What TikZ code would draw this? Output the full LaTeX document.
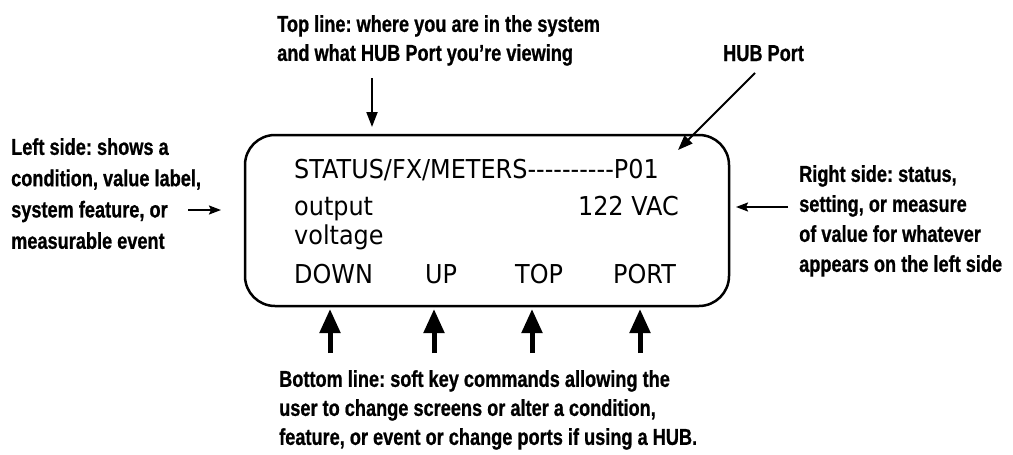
\documentclass[tikz,border=0pt]{standalone}
\usepackage{fontspec}
\setmainfont{Liberation Sans}
\newfontfamily\notefont{Liberation Sans}[FakeStretch=0.79,FakeBold=0.8]
\newfontfamily\lcdfont{DejaVu Sans}[FakeStretch=0.92]
\usetikzlibrary{arrows.meta}
\frenchspacing

\begin{document}
\begin{tikzpicture}[x=1pt, y=-1pt,
		note/.style={font=\notefont\bfseries\fontsize{23}{#1}\selectfont, align=left, anchor=north west, inner sep=0pt},
		lcd/.style={font=\lcdfont\fontsize{26}{29}\selectfont, anchor=base west, inner sep=0pt},
		thin pointer/.style={line width=2pt, -{Triangle[length=15pt,width=11pt]}},
		side pointer/.style={line width=1.8pt, -{Stealth[length=12pt,width=9pt,inset=2pt]}},
		key pointer/.style={line width=5pt, -{Triangle[length=24pt,width=20pt]}}]
	\useasboundingbox (0,0) rectangle (1013,455);
	\draw [line width=2.5pt, rounded corners=30pt] (245,135) rectangle (729,306);
	\node [note=29] (topNote) at (277,15) {Top line: where you are in the system\\and what HUB Port you’re viewing};
	\node [note=29] (hubNote) at (723,45) {HUB Port};
	\node [note=31.3] (leftNote) at (11,138) {Left side: shows a\\condition, value label,\\system feature, or\\measurable event};
	\node [note=30] (rightNote) at (799,165) {Right side: status,\\setting, or measure\\of value for whatever\\appears on the left side};
	\node [note=29] (bottomNote) at (279,370) {Bottom line: soft key commands allowing the\\user to change screens or alter a condition,\\feature, or event or change ports if using a HUB.};
	\node [lcd] (path) at (294,178) {STATUS/FX/METERS----------P01};
	\node [lcd] (label1) at (294,215) {output};
	\node [lcd] (label2) at (294,244) {voltage};
	\node [lcd, anchor=base east] (value) at (679,215) {122 VAC};
	\node [lcd] (keyDown) at (294,283) {DOWN};
	\node [lcd] (keyUp) at (425,283) {UP};
	\node [lcd] (keyTop) at (515,283) {TOP};
	\node [lcd] (keyPort) at (613,283) {PORT};
	\coordinate (topTail) at (372,78);
	\coordinate (topTip) at (372,127);
	\coordinate (hubTail) at (755,73);
	\coordinate (hubTip) at (678,150);
	\coordinate (leftTail) at (188,210);
	\coordinate (leftTip) at (221,210);
	\coordinate (rightTail) at (788,207);
	\coordinate (rightTip) at (736,207);
	\draw [thin pointer] (topTail) -- (topTip);
	\draw [thin pointer] (hubTail) -- (hubTip);
	\draw [side pointer] (leftTail) -- (leftTip);
	\draw [side pointer] (rightTail) -- (rightTip);
	\foreach \x/\name in {330/Down, 434/Up, 532/Top, 640/Port} {
		\coordinate (tail\name) at (\x,353);
		\coordinate (tip\name) at (\x,309);
		\draw [key pointer] (tail\name) -- (tip\name);
	}
\end{tikzpicture}
\end{document}
